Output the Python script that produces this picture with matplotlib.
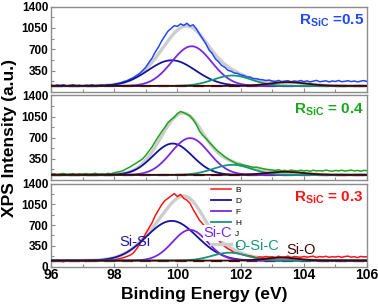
import numpy as np
import matplotlib
matplotlib.use("Agg")
import matplotlib.pyplot as plt
from matplotlib.ticker import MultipleLocator, FixedLocator

plt.rcParams['font.family'] = ['Liberation Sans', 'DejaVu Sans']
plt.rcParams['mathtext.fontset'] = 'custom'
plt.rcParams['mathtext.bf'] = 'Liberation Sans:bold'
plt.rcParams['mathtext.rm'] = 'Liberation Sans'

# ---------------- data ----------------
energy = np.round(np.arange(960, 1061) / 10.0, 1)   # binding energy grid (eV)

meas_05 = [112, 98, 115, 105, 120, 96, 108, 118, 102, 110,
           95, 112, 104, 118, 100, 109, 115, 103, 120, 112,
           125, 138, 146, 170, 182, 210, 232, 268, 300, 352,
           405, 485, 555, 655, 735, 835, 915, 995, 1040, 1085,
           1075, 1115, 1090, 1125, 1080, 1100, 1035, 950, 870, 790,
           690, 630, 545, 495, 435, 405, 355, 340, 310, 305,
           280, 270, 245, 245, 220, 218, 205, 200, 188, 195,
           180, 172, 190, 168, 178, 185, 165, 180, 172, 188,
           170, 182, 165, 178, 190, 168, 175, 183, 165, 180,
           172, 188, 168, 175, 185, 170, 180, 165, 178, 186,
           172]
meas_04 = [95, 105, 88, 100, 110, 92, 98, 106, 90, 102,
           96, 108, 94, 100, 112, 98, 104, 95, 110, 102,
           120, 130, 142, 160, 190, 215, 250, 280, 315, 350,
           410, 480, 550, 640, 720, 800, 870, 950, 1000, 1040,
           1100, 1135, 1115, 1090, 1060, 1000, 920, 810, 740, 690,
           630, 575, 520, 470, 430, 385, 350, 320, 290, 268,
           260, 245, 235, 222, 210, 215, 200, 190, 178, 172,
           165, 158, 170, 152, 160, 148, 165, 155, 150, 162,
           150, 158, 145, 162, 150, 155, 148, 165, 152, 145,
           158, 150, 162, 148, 155, 165, 150, 158, 146, 160,
           155]
meas_03 = [100, 85, 110, 92, 78, 105, 95, 88, 102, 90,
           98, 82, 105, 94, 88, 100, 110, 92, 96, 104,
           110, 125, 135, 150, 170, 190, 225, 290, 370, 460,
           560, 650, 740, 860, 950, 1040, 1110, 1150, 1190, 1230,
           1180, 1215, 1150, 1120, 1065, 960, 870, 780, 720, 660,
           600, 560, 500, 450, 380, 335, 300, 270, 235, 225,
           210, 195, 185, 178, 165, 150, 162, 155, 170, 158,
           165, 150, 172, 158, 160, 175, 150, 168, 162, 155,
           170, 158, 165, 175, 152, 168, 160, 172, 155, 165,
           160, 170, 155, 168, 175, 158, 165, 150, 170, 162,
           165]

# fitted components: (center eV, height above background, sigma eV) for Si-Si, Si-C, O-Si-C, Si-O
peaks_05 = [(99.82, 420, 0.75), (100.45, 650, 0.63), (101.74, 170, 0.60), (103.5, 60, 0.60)]
peaks_04 = [(99.85, 520, 0.62), (100.40, 610, 0.60), (101.74, 167, 0.60), (103.4, 50, 0.60)]
peaks_03 = [(99.82, 670, 0.80), (100.40, 520, 0.55), (101.65, 133, 0.55), (103.3, 50, 0.50)]
background = [100, 85, 100]

labels_r = [r'$\mathbf{R_{SiC}}$ =0.5', r'$\mathbf{R_{SiC}}$ = 0.4', r'$\mathbf{R_{SiC}}$ = 0.3']
meas_colors = ['#1f48ff', '#1ea51e', '#ff1414']

comp_colors = ['#14149a', '#7a28e0', '#14967a', '#3c0808']
bg_color = '#5c0a0a'
env_color = '#cdcdcd'
spine_color = '#8c8c8c'

# ---------------- figure ----------------
fig = plt.figure(figsize=(3.78, 3.07), dpi=100)
W, H = 378.0, 307.0
left, right = 51 / W, 367 / W
panels_px = [(6.5, 92.0), (95.5, 180.0), (183.5, 266.5)]

x = energy
datasets = [meas_05, meas_04, meas_03]
peaksets = [peaks_05, peaks_04, peaks_03]

axes = []
for i, (top, bot) in enumerate(panels_px):
    ax = fig.add_axes([left, 1 - bot / H, right - left, (bot - top) / H])
    axes.append(ax)
    bg = background[i]
    comps = []
    for (c, h, s) in peaksets[i]:
        comps.append(bg + h * np.exp(-(x - c) ** 2 / (2 * s ** 2)))
    env = bg + sum(cc - bg for cc in comps)

    ax.plot(x, env, color=env_color, lw=2.4, zorder=2, label='L')
    ax.plot(x, datasets[i], color=meas_colors[i], lw=1.1, zorder=3, label='B')
    ax.plot(x, np.full_like(x, bg, dtype=float), color=bg_color, lw=1.6,
            dashes=(5, 3), zorder=4)
    names = ['D', 'F', 'H', 'J']
    for cc, col, nm in zip(comps, comp_colors, names):
        ax.plot(x, cc, color=col, lw=1.3, zorder=5, label=nm)

    ax.set_xlim(96, 106)
    ax.set_ylim(0, 1400)
    ax.xaxis.set_major_locator(MultipleLocator(2))
    ax.xaxis.set_minor_locator(MultipleLocator(1))
    if i == 2:
        ax.yaxis.set_major_locator(FixedLocator([0, 350, 700, 1050, 1400]))
    else:
        ax.yaxis.set_major_locator(FixedLocator([350, 700, 1050, 1400]))
    ax.yaxis.set_minor_locator(MultipleLocator(175))
    ax.tick_params(axis='both', which='both', direction='in', colors=spine_color,
                   labelcolor='black', width=0.8)
    ax.tick_params(axis='both', which='major', length=3)
    ax.tick_params(axis='both', which='minor', length=2)
    ax.tick_params(axis='y', labelsize=8.5, pad=2)
    ax.tick_params(axis='x', labelsize=10, pad=1)
    for lab in ax.get_yticklabels():
        lab.set_fontweight('bold')
    for sp in ax.spines.values():
        sp.set_color(spine_color)
        sp.set_linewidth(1.0)
    if i < 2:
        ax.tick_params(axis='x', labelbottom=False)
    else:
        for lab in ax.get_xticklabels():
            lab.set_fontweight('bold')

    ax.text(0.99, 0.93, labels_r[i], transform=ax.transAxes, ha='right', va='top',
            fontsize=11, fontweight='bold', color=meas_colors[i], zorder=10)

ax3 = axes[2]
handles, labs = ax3.get_legend_handles_labels()
order = ['B', 'D', 'F', 'H', 'J', 'L']
hmap = dict(zip(labs, handles))
leg = ax3.legend([hmap[k] for k in order], order, loc='upper left',
                 bbox_to_anchor=(0.49, 1.03), frameon=False, fontsize=6,
                 handlelength=2.4, handletextpad=0.5, labelspacing=0.38,
                 borderpad=0.1)
leg.set_zorder(6)

ax3.text(98.65, 408, 'Si-Si', color='#1a1aa0', fontsize=10.5, ha='center', va='center', zorder=8)
ax3.text(101.27, 567, 'Si-C', color='#7a28e0', fontsize=10.5, ha='center', va='center', zorder=8,
         bbox=dict(facecolor='white', edgecolor='none', pad=0.5))
ax3.text(102.5, 350, 'O-Si-C', color='#14967a', fontsize=10.5, ha='center', va='center', zorder=8)
ax3.text(103.9, 283, 'Si-O', color='#3c0808', fontsize=10.5, ha='center', va='center', zorder=8)

fig.text(10 / W, 1 - 138 / H, 'XPS Intensity (a.u.)', rotation=90, ha='center', va='center',
         fontsize=12.5, fontweight='bold')
fig.text(204 / W, 1 - 295 / H, 'Binding Energy (eV)', ha='center', va='center',
         fontsize=12.5, fontweight='bold')

fig.savefig('out.png', dpi=100)
